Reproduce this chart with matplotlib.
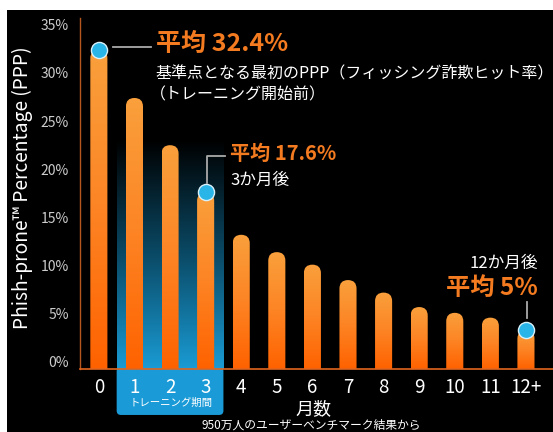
import numpy as np
import matplotlib
matplotlib.use("Agg")
import matplotlib.pyplot as plt
from matplotlib.patches import FancyBboxPatch, Rectangle
from matplotlib.colors import LinearSegmentedColormap

plt.rcParams['font.family'] = ['Noto Sans CJK JP', 'DejaVu Sans']

# ---- data ----
months = ["0", "1", "2", "3", "4", "5", "6", "7", "8", "9", "10", "11", "12+"]
ppp = [32.4, 27.4, 22.5, 17.6, 13.2, 11.4, 10.1, 8.5, 7.2, 5.7, 5.1, 4.6, 3.3]
highlight_idx = [0, 3, 12]
yticks = [0, 5, 10, 15, 20, 25, 30, 35]
ytick_labels = ["0%", "5%", "10%", "15%", "20%", "25%", "30%", "35%"]
ylabel = "Phish-prone™ Percentage (PPP)"
xlabel = "月数"
training_label = "トレーニング期間"
footer = "950万人のユーザーベンチマーク結果から"
ann0_title = "平均 32.4%"
ann0_l1 = "基準点となる最初のPPP（フィッシング詐欺ヒット率）"
ann0_l2 = "（トレーニング開始前）"
ann3_title = "平均 17.6%"
ann3_l1 = "3か月後"
ann12_title = "平均 5%"
ann12_l1 = "12か月後"

W, H = 553, 432
fig = plt.figure(figsize=(W / 100, H / 100), dpi=100, facecolor='white')

def fx(px):
    return px / W

def fy(py):
    return 1 - py / H

# black background panel
fig.patches.append(Rectangle((fx(7), 0), 1 - fx(7), fy(10), transform=fig.transFigure,
                             facecolor='black', edgecolor='none', zorder=-10))

ax = fig.add_axes([fx(80), fy(369), 1 - fx(80), fy(18) - fy(369)])
ax.set_facecolor('none')
ymin, ymax = -0.73, 35.7
xmin, xmax = -0.53, 12.76

ORANGE = '#F47B20'
x = np.arange(len(months))

# training highlight (gradient above baseline, fading to black upward)
blue_cmap = LinearSegmentedColormap.from_list('b', ['#000000', '#0a4a66', '#1a9bd4'])
g_blue = np.linspace(1, 0, 256).reshape(-1, 1)
ax.imshow(g_blue, cmap=blue_cmap, vmin=0, vmax=1, extent=[0.5, 3.5, ymin, 23],
          aspect='auto', origin='lower', zorder=0, interpolation='bicubic')
# box below the baseline
box = FancyBboxPatch((0.5, -5.5), 3.0, 5.0, boxstyle="round,pad=0,rounding_size=0.12",
                     mutation_aspect=3.7, facecolor='#1a9bd7', edgecolor='none',
                     clip_on=False, zorder=0.5)
ax.add_patch(box)

# bars with rounded tops and vertical gradient
bar_w = 0.48
bar_cmap = LinearSegmentedColormap.from_list('o', ['#FF6200', '#FD8424', '#F9A03C'])
aspect = 35.6 / 9.63
for i, v in enumerate(ppp):
    left = x[i] - bar_w / 2
    top = v
    patch = FancyBboxPatch((left, -4), bar_w, top + 4,
                           boxstyle=f"round,pad=0,rounding_size={bar_w/2}",
                           mutation_aspect=aspect, facecolor='none', edgecolor='none')
    ax.add_patch(patch)
    g = np.linspace(0, 1, 128).reshape(-1, 1)
    im = ax.imshow(g, cmap=bar_cmap, extent=[left, left + bar_w, ymin, top], aspect='auto',
                   origin='lower', zorder=2, interpolation='bicubic')
    im.set_clip_path(patch)

ax.set_xlim(xmin, xmax)
ax.set_ylim(ymin, ymax)

# highlight circles
hx = [x[i] for i in highlight_idx]
hy = [ppp[i] for i in highlight_idx]
ax.scatter(hx, hy, s=135, color='#29B5E8', edgecolors='#d8f0fa', linewidths=1.0, zorder=5)

# spines
for s in ['top', 'right']:
    ax.spines[s].set_visible(False)
ax.spines['left'].set_color('#B5561F')
ax.spines['bottom'].set_color('#E0651F')
ax.spines['left'].set_linewidth(1.0)
ax.spines['bottom'].set_linewidth(1.2)
ax.spines['bottom'].set_zorder(6)

ax.set_yticks(yticks)
ax.set_yticklabels(ytick_labels, color='#cccccc', fontsize=10)
ax.set_xticks(x)
ax.set_xticklabels(months, color='white', fontsize=13.5)
ax.tick_params(axis='y', length=0, pad=8)
ax.tick_params(axis='x', length=0, pad=6)

# y label
fig.text(fx(22), fy(188), ylabel, rotation=90, color='white', fontsize=13.8,
         ha='center', va='center')

# annotations
GREY = '#aaaaaa'
fig.add_artist(plt.Line2D([fx(113), fx(151)], [fy(47), fy(47)], color=GREY, lw=1.3))
fig.text(fx(156), fy(44), ann0_title, color=ORANGE, fontsize=18, fontweight='bold', va='center')
fig.text(fx(155), fy(74), ann0_l1, color='white', fontsize=11.5, va='center')
fig.text(fx(150), fy(95), ann0_l2, color='white', fontsize=11.5, va='center')

fig.add_artist(plt.Line2D([fx(207), fx(207), fx(225)], [fy(183), fy(156), fy(156)],
                          color=GREY, lw=1.3))
fig.text(fx(230), fy(153), ann3_title, color=ORANGE, fontsize=14.5, fontweight='bold', va='center')
fig.text(fx(230), fy(180), ann3_l1, color='white', fontsize=12, va='center')

fig.add_artist(plt.Line2D([fx(527), fx(527)], [fy(302), fy(318)], color=GREY, lw=1.3))
fig.text(fx(538), fy(263), ann12_l1, color='white', fontsize=12, va='center', ha='right')
fig.text(fx(538), fy(288), ann12_title, color=ORANGE, fontsize=17.5, fontweight='bold',
         va='center', ha='right')

# training label, x label, footer
fig.text(fx(171), fy(403), training_label, color='white', fontsize=7.5, ha='center', va='center')
fig.text(fx(313), fy(409), xlabel, color='white', fontsize=13, ha='center', va='center')
fig.text(fx(311), fy(431.5), footer, color='white', fontsize=8.5, ha='center', va='bottom')

fig.savefig('out.png', dpi=100, facecolor='white')
